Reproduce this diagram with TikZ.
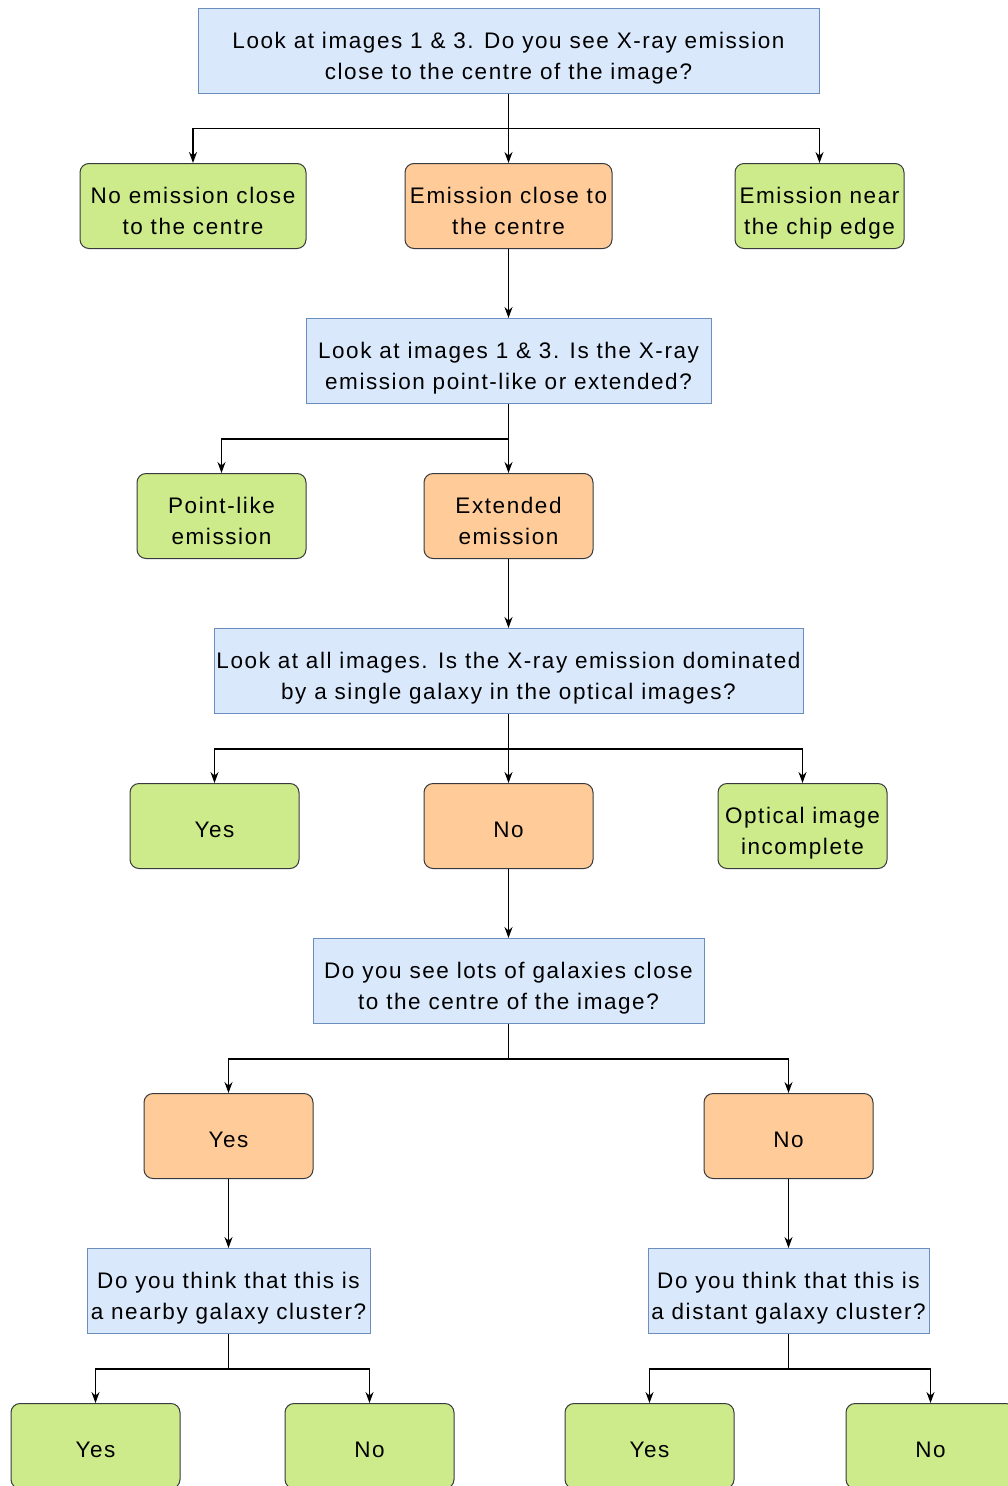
\documentclass[tikz,border=0pt]{standalone}
\usepackage{fontspec}
\setmainfont{Liberation Sans}[LetterSpace=7]
\usetikzlibrary{arrows.meta,positioning}

\definecolor{qfill}{HTML}{DAE8FC}
\definecolor{qdraw}{HTML}{6C8EBF}
\definecolor{gfill}{HTML}{CDEB8B}
\definecolor{ofill}{HTML}{FFCC99}
\definecolor{bdraw}{HTML}{36393D}

\tikzset{
  lift/.store in=\liftheight, lift=57pt,
  boxtext/.style={align=center, minimum height=85pt, inner sep=2pt, text depth=0pt,
    execute at begin node={\rule{0pt}{\liftheight}}},
  oneline/.style={lift=22pt},
  question/.style={boxtext, draw=qdraw, fill=qfill, line width=1pt},
  answer/.style={boxtext, draw=bdraw, line width=1pt, rounded corners=9pt},
  good/.style={answer, fill=gfill},
  onward/.style={answer, fill=ofill},
  link/.style={line width=1.3pt, -{Stealth[length=11pt,width=8pt]}},
}

\begin{document}
\begin{tikzpicture}[x=1pt,y=-1pt,font=\fontsize{22.5}{31}\selectfont]
\useasboundingbox (0,0) rectangle (1008,1486);

% first question
\node (q1) at (508.5,50.5) [question, minimum width=621pt] {Look at images 1 \& 3. Do you see X-ray emission\\close to the centre of the image?};
\node (noemis) at (193,206) [good, minimum width=226pt] {No emission close\\to the centre};
\node (emis) at (508.5,206) [onward, minimum width=207pt] {Emission close to\\the centre};
\node (edge) at (819.5,206) [good, minimum width=169pt] {Emission near\\the chip edge};

% second question
\node (q2) at (508.5,361) [question, minimum width=405pt] {Look at images 1 \& 3. Is the X-ray\\emission point-like or extended?};
\node (point) at (221.5,516) [good, minimum width=169pt] {Point-like\\emission};
\node (ext) at (508.5,516) [onward, minimum width=169pt] {Extended\\emission};

% third question
\node (q3) at (508.5,671) [question, minimum width=589pt] {Look at all images. Is the X-ray emission dominated\\by a single galaxy in the optical images?};
\node (yes1) at (214.5,826) [good, oneline, minimum width=169pt] {Yes};
\node (no1) at (508.5,826) [onward, oneline, minimum width=169pt] {No};
\node (optic) at (802.5,826) [good, minimum width=169pt] {Optical image\\incomplete};

% fourth question
\node (q4) at (508.5,981) [question, minimum width=391pt] {Do you see lots of galaxies close\\to the centre of the image?};
\node (yes2) at (228.5,1136) [onward, oneline, minimum width=169pt] {Yes};
\node (no2) at (788.5,1136) [onward, oneline, minimum width=169pt] {No};

% last questions
\node (near) at (228.5,1291) [question, minimum width=283pt] {Do you think that this is\\a nearby galaxy cluster?};
\node (far) at (788.5,1291) [question, minimum width=281pt] {Do you think that this is\\a distant galaxy cluster?};
\node (yes3) at (95.5,1446) [good, oneline, minimum width=169pt] {Yes};
\node (no3) at (369.5,1446) [good, oneline, minimum width=169pt] {No};
\node (yes4) at (649.5,1446) [good, oneline, minimum width=169pt] {Yes};
\node (no4) at (930.5,1446) [good, oneline, minimum width=169pt] {No};

% connectors
\draw[link] (q1) -- (emis);
\draw[link] (q1.south) -- ++(0,35) -| (noemis.north);
\draw[link] (q1.south) -- ++(0,35) -| (edge.north);
\draw[link] (emis) -- (q2);
\draw[link] (q2) -- (ext);
\draw[link] (q2.south) -- ++(0,35) -| (point.north);
\draw[link] (ext) -- (q3);
\draw[link] (q3) -- (no1);
\draw[link] (q3.south) -- ++(0,35) -| (yes1.north);
\draw[link] (q3.south) -- ++(0,35) -| (optic.north);
\draw[link] (no1) -- (q4);
\draw[link] (q4.south) -- ++(0,35) -| (yes2.north);
\draw[link] (q4.south) -- ++(0,35) -| (no2.north);
\draw[link] (yes2) -- (near);
\draw[link] (no2) -- (far);
\draw[link] (near.south) -- ++(0,35) -| (yes3.north);
\draw[link] (near.south) -- ++(0,35) -| (no3.north);
\draw[link] (far.south) -- ++(0,35) -| (yes4.north);
\draw[link] (far.south) -- ++(0,35) -| (no4.north);

\end{tikzpicture}
\end{document}
